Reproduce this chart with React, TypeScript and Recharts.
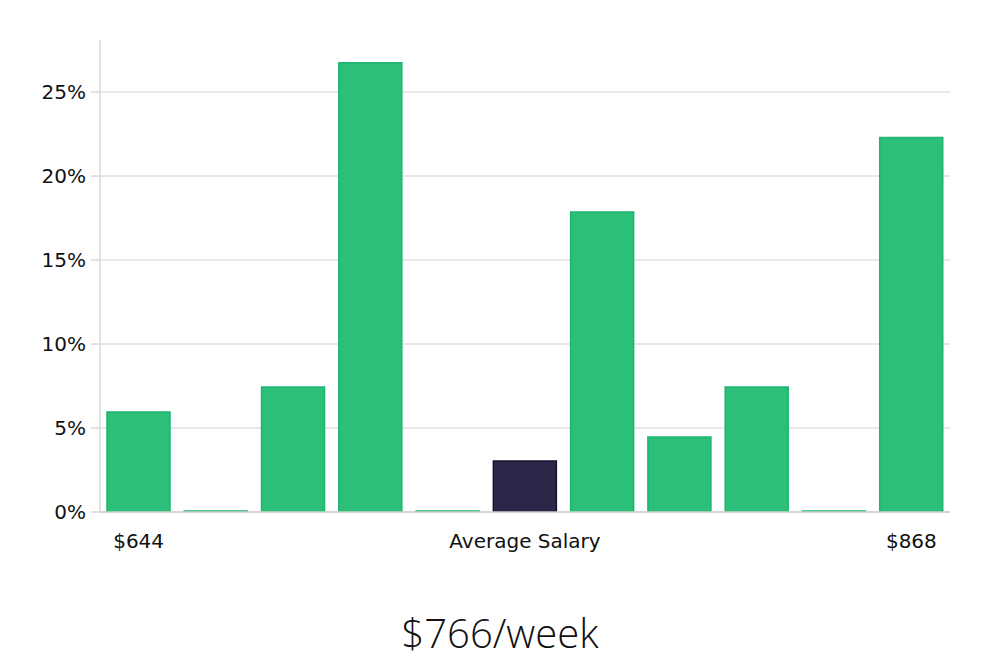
import { BarChart, Bar, XAxis, YAxis, CartesianGrid, Cell } from 'recharts'

const bands = ['b1', 'b2', 'b3', 'b4', 'b5', 'b6', 'b7', 'b8', 'b9', 'b10', 'b11']
const tickLabels = ['$644', '', '', '', '', 'Average Salary', '', '', '', '', '$868']
const shares = [0.0595, 0, 0.0744, 0.2675, 0, 0.0303, 0.1786, 0.0446, 0.0744, 0, 0.223]
const highlight = 'b6'
const yTicks = [0, 0.05, 0.1, 0.15, 0.2, 0.25]
const title = '$766/week'

const dados = bands.map((b, i) => ({ nome: b, rotulo: tickLabels[i], valor: shares[i] }))

const FONTE = '"DejaVu Sans", sans-serif'

function TickX(props: any) {
  const { x, y, index } = props
  return (
    <text x={x} y={y + 28} textAnchor="middle" fontSize={20} fontFamily={FONTE} fill="#111">
      {tickLabels[index]}
    </text>
  )
}

export default function App() {
  return (
    <div style={{ position: 'fixed', left: 0, top: 0, width: 1000, height: 660, background: '#fff' }}>
      <BarChart
        width={1000}
        height={660}
        data={dados}
        barCategoryGap={7}
        margin={{ top: 40, right: 50, bottom: 88, left: 0 }}
      >
        <CartesianGrid vertical={false} horizontalValues={yTicks} stroke="#e0e0e0" strokeWidth={1.5} />
        <XAxis
          dataKey="nome"
          height={60}
          interval={0}
          tick={<TickX />}
          tickLine={false}
          axisLine={{ stroke: '#d0d0d0', strokeWidth: 1.5 }}
        />
        <YAxis
          width={100}
          domain={[0, 0.281]}
          ticks={yTicks}
          allowDataOverflow
          tickFormatter={(v: number) => `${Math.round(v * 100)}%`}
          tick={{ fontSize: 20, fontFamily: FONTE, fill: '#111' }}
          tickSize={9}
          tickMargin={5}
          tickLine={{ stroke: '#d8d8d8', strokeWidth: 1.5 }}
          axisLine={{ stroke: '#d8d8d8', strokeWidth: 1.5 }}
        />
        <Bar dataKey="valor" isAnimationActive={false} minPointSize={1} strokeWidth={1.5}>
          {dados.map((d) => (
            <Cell
              key={d.nome}
              fill={d.nome === highlight ? '#2a2749' : '#2bbf7a'}
              stroke={d.nome === highlight ? '#16132e' : '#20b56f'}
            />
          ))}
        </Bar>
      </BarChart>
      <div
        style={{
          position: 'absolute',
          left: 0,
          width: 1000,
          top: 607,
          textAlign: 'center',
          fontFamily: '"Open Sans", sans-serif',
          fontWeight: 300,
          fontSize: 40,
          color: '#111',
          lineHeight: '52px',
        }}
      >
        {title}
      </div>
    </div>
  )
}
